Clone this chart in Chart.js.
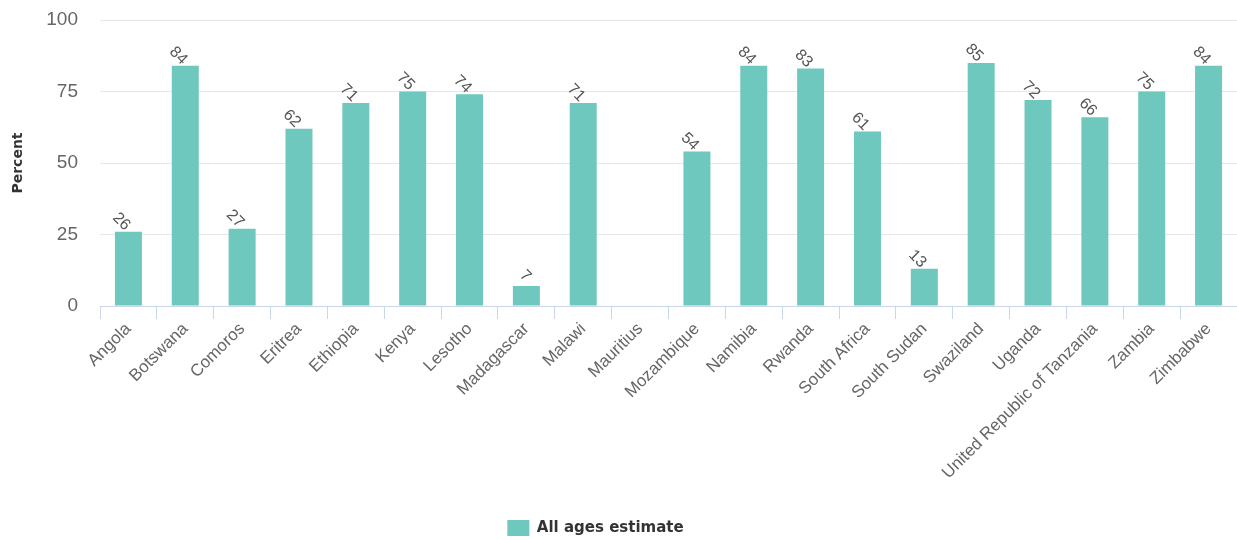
<!DOCTYPE html>
<html>
<head>
<meta charset="utf-8">
<script src="https://cdn.jsdelivr.net/npm/chart.js@4"></script>
<style>
  body { margin: 0; background: #fff; }
  #wrap { width: 1237px; height: 540px; }
</style>
</head>
<body>
<div id="wrap"><canvas id="grafico" width="1237" height="540"></canvas></div>
<script>
// dados do gráfico
const paises = ['Angola', 'Botswana', 'Comoros', 'Eritrea', 'Ethiopia', 'Kenya', 'Lesotho',
    'Madagascar', 'Malawi', 'Mauritius', 'Mozambique', 'Namibia', 'Rwanda', 'South Africa',
    'South Sudan', 'Swaziland', 'Uganda', 'United Republic of Tanzania', 'Zambia', 'Zimbabwe'];
const valores = [26, 84, 27, 62, 71, 75, 74, 7, 71, null, 54, 84, 83, 61, 13, 85, 72, 66, 75, 84];
const serieNome = 'All ages estimate';
const ticksY = [0, 25, 50, 75, 100];

// rótulos rotacionados sobre as barras
const rotulos = {
    id: 'rotulos',
    afterLayout(chart) {
        // legenda um pouco à esquerda, como no original
        const lg = chart.legend;
        lg.left -= 28;
        lg.right -= 28;
    },
    afterDatasetsDraw(chart) {
        const ctx = chart.ctx;
        const meta = chart.getDatasetMeta(0);
        ctx.save();
        ctx.font = '16px "Liberation Sans", Arial, sans-serif';
        ctx.fillStyle = '#555';
        ctx.textAlign = 'center';
        ctx.textBaseline = 'middle';
        meta.data.forEach((bar, i) => {
            const v = valores[i];
            if (v === null) return;
            const txt = String(v);
            ctx.save();
            ctx.translate(bar.x - 1 - 6 * (txt.length - 1), bar.y - 10);
            ctx.rotate(Math.PI / 4);
            ctx.fillText(txt, 0, 0);
            ctx.restore();
        });
        ctx.restore();
    }
};

const ctx = document.getElementById('grafico').getContext('2d');
new Chart(ctx, {
    type: 'bar',
    data: {
        labels: paises,
        datasets: [{
            label: serieNome,
            data: valores,
            backgroundColor: '#6fc8bd',
            borderWidth: 0,
            barPercentage: 0.475,
            categoryPercentage: 1
        }]
    },
    plugins: [rotulos],
    options: {
        responsive: false,
        animation: false,
        layout: { padding: { top: 20, right: 0, left: 10, bottom: -6 } },
        plugins: {
            tooltip: { enabled: false },
            legend: {
                position: 'bottom',
                labels: {
                    boxWidth: 22,
                    boxHeight: 16,
                    color: '#333',
                    padding: 4,
                    font: { family: '"DejaVu Sans", sans-serif', size: 15, weight: 'bold' }
                }
            }
        },
        scales: {
            x: {
                grid: { drawOnChartArea: false, tickLength: 13, color: '#ccd6eb', offset: true },
                border: { color: '#ccd6eb' },
                ticks: {
                    autoSkip: false,
                    maxRotation: 45,
                    minRotation: 45,
                    color: '#666',
                    padding: 0,
                    font: { family: '"Liberation Sans", Arial, sans-serif', size: 17 }
                },
                afterFit(scale) {
                    scale.height = 210;
                    scale.paddingTop = 0;
                }
            },
            y: {
                min: 0,
                max: 100,
                afterBuildTicks(scale) { scale.ticks = ticksY.map(v => ({ value: v })); },
                grid: { color: '#e6e6e6', drawTicks: false },
                border: { display: false },
                ticks: {
                    color: '#666',
                    padding: 22,
                    font: { family: '"Liberation Sans", Arial, sans-serif', size: 19 }
                },
                title: {
                    display: true,
                    text: 'Percent',
                    color: '#333',
                    padding: { top: 0, bottom: 0 },
                    font: { family: '"DejaVu Sans", sans-serif', size: 14, weight: 'bold' }
                },
                afterFit(scale) {
                    scale.width = 90;
                    scale.paddingTop = 0;
                    scale.paddingBottom = 0;
                }
            }
        }
    }
});
</script>
</body>
</html>
